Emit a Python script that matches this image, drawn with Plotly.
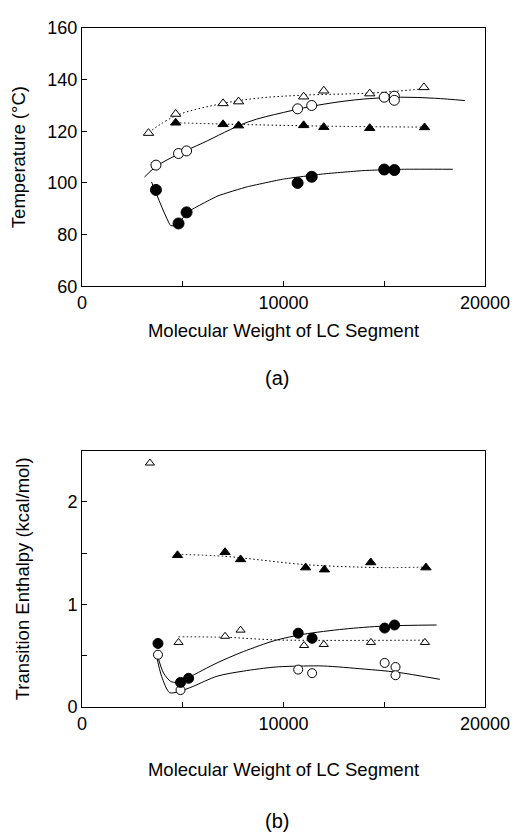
import plotly.graph_objects as go

# ---------------- (a) Temperature ----------------
a_open_tri_x = [3300, 4650, 7000, 7770, 11000, 12000, 14280, 16970]
a_open_tri_y = [119.3, 126.7, 130.8, 131.5, 133.4, 135.7, 134.6, 137.0]
a_open_tri_trend_x = [3300, 4650, 7000, 8700, 11000, 14300, 17000]
a_open_tri_trend_y = [119.5, 126.0, 130.8, 132.8, 134.0, 134.8, 136.5]

a_fill_tri_x = [4650, 7000, 7770, 11000, 12000, 14280, 17000]
a_fill_tri_y = [123.3, 122.7, 122.2, 122.3, 121.6, 121.2, 121.5]
a_fill_tri_trend_x = [4650, 7000, 8700, 12000, 17000]
a_fill_tri_trend_y = [123.3, 122.8, 122.5, 122.0, 121.6]

a_open_circ_x = [3670, 4790, 5190, 10700, 11400, 15000, 15500, 15500]
a_open_circ_y = [106.9, 111.4, 112.4, 128.7, 130.0, 133.2, 133.6, 132.0]
a_open_fit_x = [3100, 3700, 4800, 6000, 8200, 10000, 12000, 14000, 15800, 17500, 19000]
a_open_fit_y = [102.3, 106.5, 111.2, 115.5, 123.5, 127.3, 130.5, 132.5, 133.2, 132.8, 131.9]

a_fill_circ_x = [3670, 4790, 5190, 10700, 11400, 15000, 15500]
a_fill_circ_y = [97.3, 84.3, 88.6, 100.0, 102.4, 105.2, 105.0]
a_fill_fit_x = [3450, 4400, 4750, 5200, 6750, 8200, 10000, 12000, 14000, 16000, 18400]
a_fill_fit_y = [100.4, 83.5, 83.6, 88.5, 95.0, 98.5, 101.5, 103.5, 104.8, 105.3, 105.3]

# ---------------- (b) Transition enthalpy ----------------
b_open_tri_x = [3370, 4790, 7100, 7870, 11020, 12000, 14340, 17020]
b_open_tri_y = [2.38, 0.63, 0.69, 0.75, 0.60, 0.61, 0.63, 0.63]
b_open_tri_trend_x = [4790, 7100, 9600, 12000, 14400, 17070]
b_open_tri_trend_y = [0.685, 0.68, 0.655, 0.65, 0.65, 0.652]

b_fill_tri_x = [4740, 7100, 7870, 11100, 12030, 14330, 17070]
b_fill_tri_y = [1.48, 1.51, 1.44, 1.36, 1.34, 1.41, 1.36]
b_fill_tri_trend_x = [4740, 7100, 8600, 11000, 13000, 15000, 17070]
b_fill_tri_trend_y = [1.49, 1.47, 1.44, 1.39, 1.37, 1.36, 1.365]

b_fill_circ_x = [3770, 4890, 5290, 10730, 11420, 15020, 15510]
b_fill_circ_y = [0.62, 0.24, 0.28, 0.72, 0.67, 0.77, 0.80]
b_fill_fit_x = [3750, 4050, 4400, 4700, 5300, 6700, 8000, 9600, 11000, 13000, 15000, 17600]
b_fill_fit_y = [0.50, 0.33, 0.25, 0.24, 0.29, 0.43, 0.54, 0.65, 0.71, 0.76, 0.79, 0.80]

b_open_circ_x = [3770, 4890, 10730, 11420, 15020, 15560, 15560]
b_open_circ_y = [0.51, 0.165, 0.365, 0.33, 0.43, 0.39, 0.31]
b_open_fit_x = [3700, 3950, 4350, 4800, 5500, 6700, 8000, 9600, 11000, 12000, 14000, 15600, 17760]
b_open_fit_y = [0.50, 0.30, 0.14, 0.15, 0.20, 0.30, 0.35, 0.39, 0.40, 0.40, 0.37, 0.34, 0.27]

x_tick_vals = [0, 5000, 10000, 15000, 20000]
x_tick_text = ["0", "", "10000", "", "20000"]
a_y_tick_vals = [60, 80, 100, 120, 140, 160]
a_y_tick_text = ["60", "80", "100", "120", "140", "160"]
b_y_tick_vals = [0, 0.5, 1, 1.5, 2]
b_y_tick_text = ["0", "", "1", "", "2"]

FONT = "Liberation Sans, Arial, Helvetica, sans-serif"
BLACK = "black"
DOTS = "1.5px,2.5px"

fig = go.Figure()


def line(x, y, xa, ya, dash, smooth=1.0):
    fig.add_trace(go.Scatter(x=x, y=y, xaxis=xa, yaxis=ya, mode="lines",
                             line=dict(color=BLACK, width=1, dash=dash,
                                       shape="spline", smoothing=smooth),
                             hoverinfo="skip", showlegend=False))


def pts(x, y, xa, ya, symbol, size, filled):
    fig.add_trace(go.Scatter(x=x, y=y, xaxis=xa, yaxis=ya, mode="markers",
                             marker=dict(symbol=symbol, size=size,
                                         color=BLACK if filled else "white",
                                         line=dict(color=BLACK, width=1)),
                             showlegend=False))


# (a)
line(a_open_tri_trend_x, a_open_tri_trend_y, "x", "y", DOTS)
line(a_fill_tri_trend_x, a_fill_tri_trend_y, "x", "y", DOTS)
line(a_open_fit_x, a_open_fit_y, "x", "y", "solid")
line(a_fill_fit_x, a_fill_fit_y, "x", "y", "solid", 0.35)
pts(a_open_tri_x, a_open_tri_y, "x", "y", "triangle-up", 9, False)
pts(a_fill_tri_x, a_fill_tri_y, "x", "y", "triangle-up", 9, True)
pts(a_open_circ_x, a_open_circ_y, "x", "y", "circle", 10, False)
pts(a_fill_circ_x, a_fill_circ_y, "x", "y", "circle", 11, True)

# (b)
line(b_open_tri_trend_x, b_open_tri_trend_y, "x2", "y2", DOTS)
line(b_fill_tri_trend_x, b_fill_tri_trend_y, "x2", "y2", DOTS)
line(b_fill_fit_x, b_fill_fit_y, "x2", "y2", "solid", 0.8)
line(b_open_fit_x, b_open_fit_y, "x2", "y2", "solid", 0.8)
pts(b_open_tri_x, b_open_tri_y, "x2", "y2", "triangle-up", 8, False)
pts(b_fill_tri_x, b_fill_tri_y, "x2", "y2", "triangle-up", 9, True)
pts(b_open_circ_x, b_open_circ_y, "x2", "y2", "circle", 9, False)
pts(b_fill_circ_x, b_fill_circ_y, "x2", "y2", "circle", 10, True)

axis_common = dict(showline=True, mirror=True, linecolor=BLACK, linewidth=1,
                   showgrid=False, zeroline=False, ticks="inside", ticklen=5,
                   tickcolor=BLACK, tickwidth=1,
                   tickfont=dict(family=FONT, size=18, color=BLACK))
title_font = dict(family=FONT, size=18.5, color=BLACK)

# page body has an 8px default margin, so the figure is 8px smaller each way
W, H = 512, 826
fig.update_layout(
    width=W, height=H,
    margin=dict(l=74, r=28, t=10, b=127),
    paper_bgcolor="white", plot_bgcolor="white",
    font=dict(family=FONT, color=BLACK),
    xaxis=dict(domain=[0, 1], anchor="y", range=[0, 20000],
               tickvals=x_tick_vals, ticktext=x_tick_text,
               title=dict(text="Molecular Weight of LC Segment", font=title_font, standoff=12),
               **axis_common),
    yaxis=dict(domain=[0.6197, 1], anchor="x", range=[60, 160],
               tickvals=a_y_tick_vals, ticktext=a_y_tick_text,
               title=dict(text="Temperature (°C)", font=title_font, standoff=16),
               **axis_common),
    xaxis2=dict(domain=[0, 1], anchor="y2", range=[0, 20000],
                tickvals=x_tick_vals, ticktext=x_tick_text,
                title=dict(text="Molecular Weight of LC Segment", font=title_font, standoff=30),
                **axis_common),
    yaxis2=dict(domain=[0, 0.3774], anchor="x2", range=[0, 2.5],
                tickvals=b_y_tick_vals, ticktext=b_y_tick_text,
                title=dict(text="Transition Enthalpy (kcal/mol)", font=title_font, standoff=32),
                **axis_common),
    annotations=[
        dict(text="(a)", xref="paper", yref="paper", x=0.485, y=(707 - 373) / 689,
             xanchor="center", yanchor="middle", showarrow=False,
             font=dict(family=FONT, size=20, color=BLACK)),
        dict(text="(b)", xref="paper", yref="paper", x=0.485, y=(707 - 823) / 689,
             xanchor="center", yanchor="middle", showarrow=False,
             font=dict(family=FONT, size=20, color=BLACK)),
    ],
)

fig.write_html("out.html")
